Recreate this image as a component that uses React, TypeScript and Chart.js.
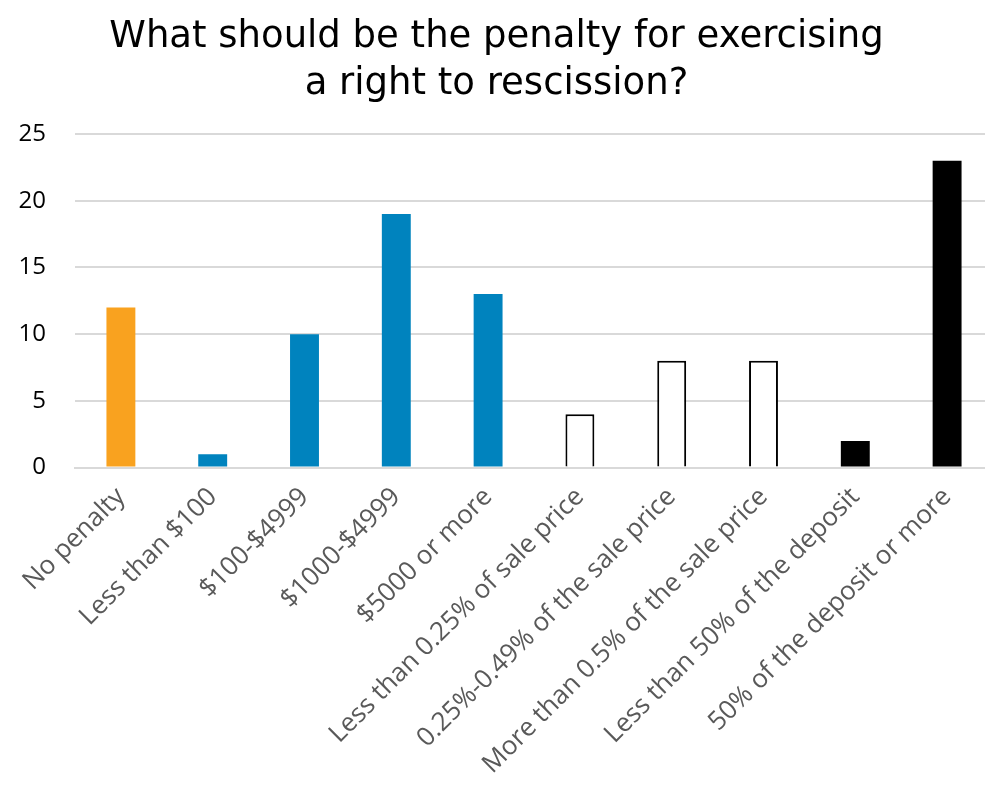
import React, { useEffect, useRef } from "react";
import { Chart, registerables } from "chart.js";

Chart.register(...registerables);

const categories = [
  "No penalty",
  "Less than $100",
  "$100-$4999",
  "$1000-$4999",
  "$5000 or more",
  "Less than 0.25% of sale price",
  "0.25%-0.49% of the sale price",
  "More than 0.5% of the sale price",
  "Less than 50% of the deposit",
  "50% of the deposit or more",
];
const values = [12, 1, 10, 19, 13, 4, 8, 8, 2, 23];
const fillColors = [
  "#F9A21F",
  "#0083BE",
  "#0083BE",
  "#0083BE",
  "#0083BE",
  "#FFFFFF",
  "#FFFFFF",
  "#FFFFFF",
  "#000000",
  "#000000",
];
const borderWidths = [0, 0, 0, 0, 0, 2, 2, 2, 0, 0];
const titleLines = ["What should be the penalty for exercising", "a right to rescission?"];
const yMin = 0;
const yMax = 25;
const yStep = 5;

const CANVAS_W = 1022;
const CANVAS_H = 788;

export default function App() {
  const ref = useRef<HTMLCanvasElement | null>(null);
  useEffect(() => {
    if (!ref.current) return;
    const chart = new Chart(ref.current, {
      type: "bar",
      data: {
        labels: categories,
        datasets: [
          {
            data: values,
            backgroundColor: fillColors,
            borderColor: "#000000",
            borderWidth: borderWidths,
            borderSkipped: "bottom",
            barPercentage: 0.315,
            categoryPercentage: 1,
          },
        ],
      },
      options: {
        animation: false,
        responsive: false,
        maintainAspectRatio: false,
        layout: { padding: { left: 0, right: 29, top: 14, bottom: 0 } },
        plugins: {
          legend: { display: false },
          tooltip: { enabled: false },
          title: {
            display: true,
            text: titleLines,
            color: "#000000",
            font: { family: "'DejaVu Sans'", size: 37, weight: "normal", lineHeight: 1.27 },
            padding: { top: 0, bottom: 26 },
          },
        },
        scales: {
          x: {
            grid: { display: false, drawTicks: false },
            border: { display: true, color: "#D9D9D9", width: 2 },
            ticks: {
              color: "#595959",
              font: { family: "'Open Sans'", size: 26 },
              minRotation: 45,
              maxRotation: 45,
              padding: 14,
              autoSkip: false,
            },
            afterFit: (scale: any) => {
              scale.height = scale.height - 6;
            },
          },
          y: {
            min: yMin,
            max: yMax,
            grid: { color: "#D9D9D9", lineWidth: 2, drawTicks: false },
            border: { display: false },
            ticks: {
              stepSize: yStep,
              color: "#000000",
              font: { family: "'Open Sans'", size: 24 },
              padding: 29,
            },
            afterFit: (scale: any) => {
              scale.width = 75;
            },
          },
        },
      },
    });
    return () => chart.destroy();
  }, []);
  return (
    <div
      style={{
        position: "fixed",
        left: 0,
        top: 0,
        width: 985,
        height: 788,
        overflow: "hidden",
        background: "#fff",
      }}
    >
      <canvas
        ref={ref}
        width={CANVAS_W}
        height={CANVAS_H}
        style={{ width: CANVAS_W, height: CANVAS_H, display: "block" }}
      />
    </div>
  );
}
